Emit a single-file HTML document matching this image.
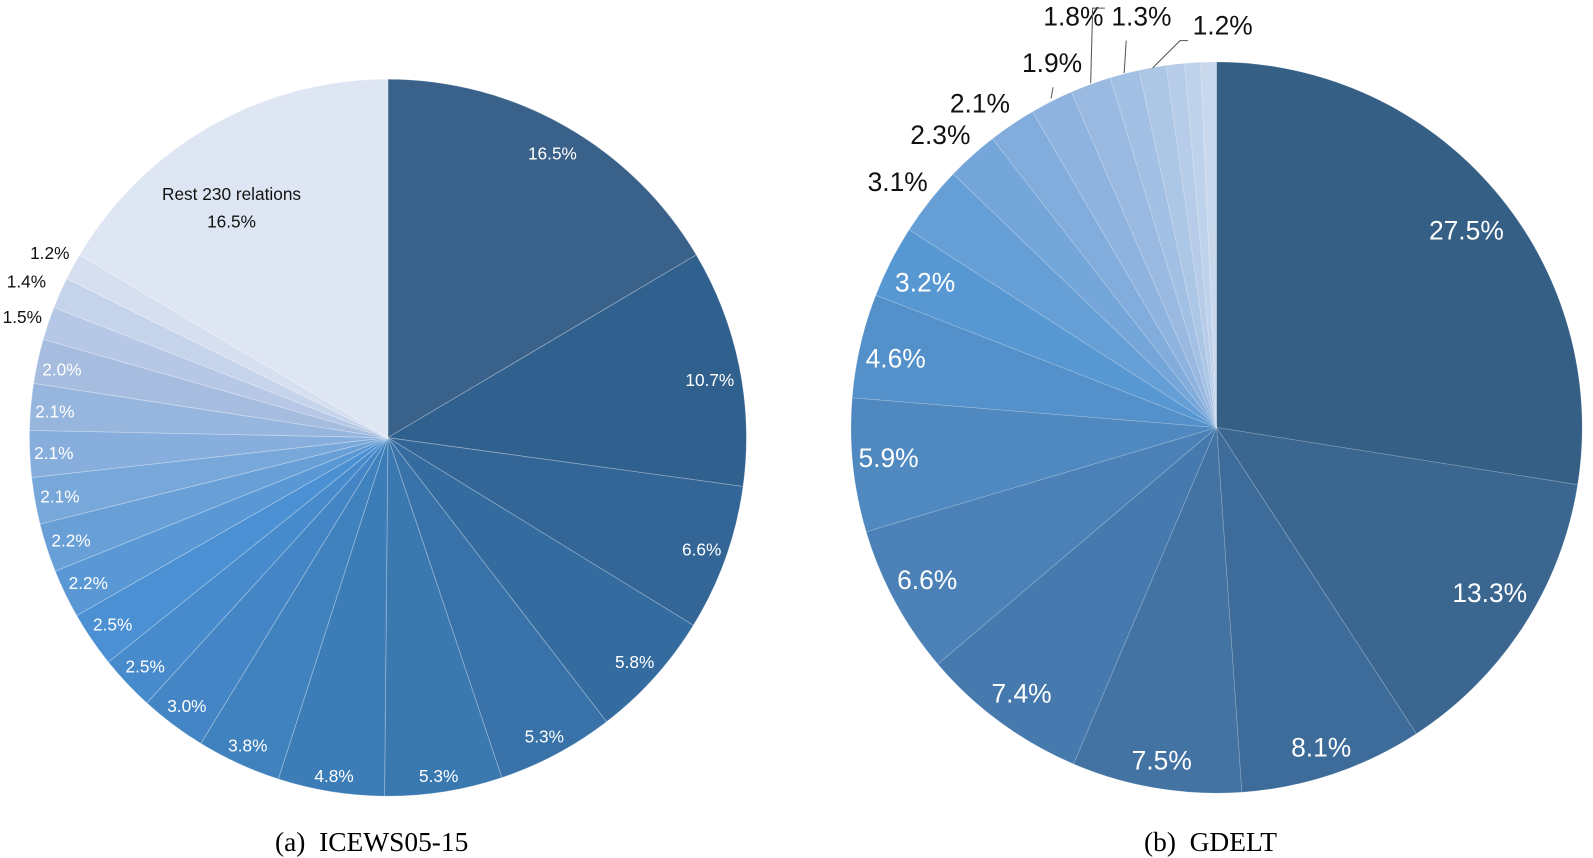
<!DOCTYPE html>
<html><head><meta charset="utf-8"><style>
html,body{margin:0;padding:0;background:#fff;}
svg{display:block;}
.a{font-family:"Liberation Sans","DejaVu Sans",sans-serif;font-size:17px;fill:#fff;text-anchor:middle;}
.ad{fill:#111;}
.b{font-family:"Liberation Sans","DejaVu Sans",sans-serif;font-size:26px;fill:#fff;text-anchor:middle;}
.bd{fill:#111;}
.cap{font-family:"Liberation Serif",serif;font-size:27px;fill:#000;text-anchor:middle;}
</style></head><body>
<svg id="s" width="1593" height="858" viewBox="0 0 1593 858" xmlns="http://www.w3.org/2000/svg">
<g transform="scale(1.0155)">
<g id="p1"></g><g id="p2"></g>
<text class="a" x="544" y="157">16.5%</text>
<text class="a" x="699" y="380">10.7%</text>
<text class="a" x="691" y="547">6.6%</text>
<text class="a" x="625" y="658">5.8%</text>
<text class="a" x="536" y="731">5.3%</text>
<text class="a" x="432" y="770">5.3%</text>
<text class="a" x="329" y="770">4.8%</text>
<text class="a" x="244" y="740">3.8%</text>
<text class="a" x="184" y="701">3.0%</text>
<text class="a" x="143" y="662">2.5%</text>
<text class="a" x="111" y="621">2.5%</text>
<text class="a" x="87" y="580">2.2%</text>
<text class="a" x="70" y="538">2.2%</text>
<text class="a" x="59" y="495">2.1%</text>
<text class="a" x="53" y="452">2.1%</text>
<text class="a" x="54" y="411">2.1%</text>
<text class="a" x="61" y="370">2.0%</text>
<text class="a ad" x="22" y="318">1.5%</text>
<text class="a ad" x="26" y="283">1.4%</text>
<text class="a ad" x="49" y="255">1.2%</text>
<text class="a ad" x="228" y="197">Rest 230 relations</text>
<text class="a ad" x="228" y="224">16.5%</text>
<text class="b" x="1444" y="236">27.5%</text>
<text class="b" x="1467" y="593">13.3%</text>
<text class="b" x="1301" y="745">8.1%</text>
<text class="b" x="1144" y="758">7.5%</text>
<text class="b" x="1006" y="692">7.4%</text>
<text class="b" x="913" y="580">6.6%</text>
<text class="b" x="875" y="460">5.9%</text>
<text class="b" x="882" y="362">4.6%</text>
<text class="b" x="911" y="287">3.2%</text>
<text class="b bd" x="884" y="188">3.1%</text>
<text class="b bd" x="926" y="142">2.3%</text>
<text class="b bd" x="965" y="111">2.1%</text>
<text class="b bd" x="1036" y="71">1.9%</text>
<text class="b bd" x="1057" y="25">1.8%</text>
<text class="b bd" x="1124" y="25">1.3%</text>
<text class="b bd" x="1204" y="34">1.2%</text>
<g stroke="#555" stroke-width="1" fill="none">
<polyline points="1035,97 1037,86"/>
<polyline points="1074,82 1076,8 1088,8"/>
<polyline points="1107,72 1109,40"/>
<polyline points="1135,67 1162,40 1170,40"/>
</g>
<text class="cap" x="366" y="838">(a)&#160; ICEWS05-15</text>
<text class="cap" x="1192" y="838">(b)&#160; GDELT</text>
</g>
</svg>
<script>
function hx(c){return [parseInt(c.substr(1,2),16),parseInt(c.substr(3,2),16),parseInt(c.substr(5,2),16)];}
function lerp(a,b,t){a=hx(a);b=hx(b);return 'rgb('+a.map((v,i)=>Math.round(v+(b[i]-v)*t)).join(',')+')';}
function col(i,stops){for(let k=0;k<stops.length-1;k++){const [i0,c0]=stops[k],[i1,c1]=stops[k+1];if(i<=i1)return lerp(c0,c1,(i-i0)/(i1-i0||1));}return stops[stops.length-1][1];}
function pie(g,cx,cy,r,vals,stops,stroke){
 const tot=vals.reduce((a,b)=>a+b,0);let a=0;let h='';
 vals.forEach((v,i)=>{const a0=a/tot*2*Math.PI;a+=v;const a1=a/tot*2*Math.PI;
  const x0=cx+r*Math.sin(a0),y0=cy-r*Math.cos(a0),x1=cx+r*Math.sin(a1),y1=cy-r*Math.cos(a1);
  const lg=(a1-a0)>Math.PI?1:0;
  h+='<path d="M'+cx+','+cy+' L'+x0.toFixed(2)+','+y0.toFixed(2)+' A'+r+','+r+' 0 '+lg+' 1 '+x1.toFixed(2)+','+y1.toFixed(2)+' Z" fill="'+col(i,stops)+'" stroke="'+stroke+'" stroke-width="0.8"/>';});
 document.getElementById(g).innerHTML=h;}
pie('p1',382,431,353,[16.5,10.7,6.6,5.8,5.3,5.3,4.8,3.8,3.0,2.5,2.5,2.2,2.2,2.1,2.1,2.1,2.0,1.5,1.4,1.2,16.5],
 [[0,'#3a6189'],[1,'#30608e'],[5,'#3a78b0'],[10,'#4a90d3'],[16,'#a6bde0'],[19,'#d6dff0'],[20,'#dfe6f3']],'rgba(255,255,255,0.3)');
pie('p2',1198,421,360,[27.5,13.3,8.1,7.5,7.4,6.6,5.9,4.6,3.2,3.1,2.3,2.1,1.9,1.8,1.3,1.2,0.8,0.7,0.7],
 [[0,'#355f85'],[1,'#3a6690'],[4,'#4679ad'],[8,'#5898d2'],[12,'#8fb3df'],[18,'#c9d8ed']],'rgba(255,255,255,0.2)');
</script>
</body></html>
